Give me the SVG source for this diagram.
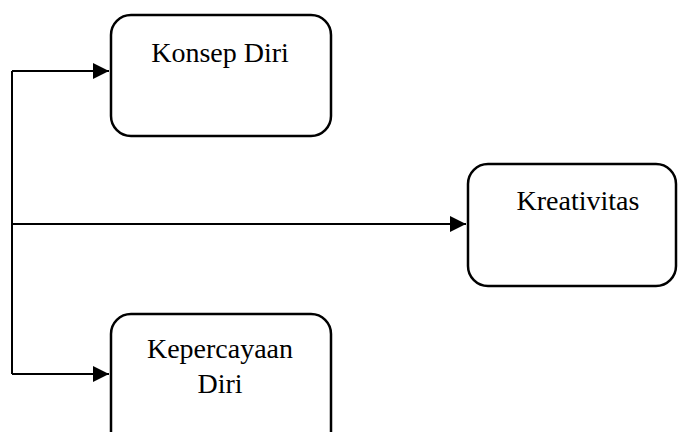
<svg xmlns="http://www.w3.org/2000/svg" width="678" height="432" viewBox="0 0 678 432">
<style>
.box{fill:#fff;stroke:#000;stroke-width:2.5}
.lbl{font-family:"Liberation Serif","Times New Roman",serif;font-size:28px;fill:#000;text-anchor:middle}
.conn{fill:none;stroke:#000;stroke-width:2}
</style>
<defs>
<marker id="arr" markerWidth="16" markerHeight="16" refX="16" refY="8" orient="auto" markerUnits="userSpaceOnUse">
<path d="M0,0 L16,8 L0,16 Z" fill="#000"/>
</marker>
</defs>
<rect width="678" height="432" fill="#fff"/>
<g id="connectors">
<path class="conn" d="M12,71 L12,374"/>
<path class="conn" d="M12,71 L109,71" marker-end="url(#arr)"/>
<path class="conn" d="M12,224 L466,224" marker-end="url(#arr)"/>
<path class="conn" d="M12,374 L109,374" marker-end="url(#arr)"/>
</g>
<g id="konsep">
<rect class="box" x="111" y="15" width="220" height="121" rx="20"/>
<text class="lbl" x="220" y="62">Konsep Diri</text>
</g>
<g id="kreativitas">
<rect class="box" x="468" y="164" width="208" height="122" rx="20"/>
<text class="lbl" x="578" y="210">Kreativitas</text>
</g>
<g id="kepercayaan">
<rect class="box" x="111" y="314" width="220" height="140" rx="20"/>
<text class="lbl" x="220" y="358">Kepercayaan</text>
<text class="lbl" x="220" y="393">Diri</text>
</g>
</svg>
